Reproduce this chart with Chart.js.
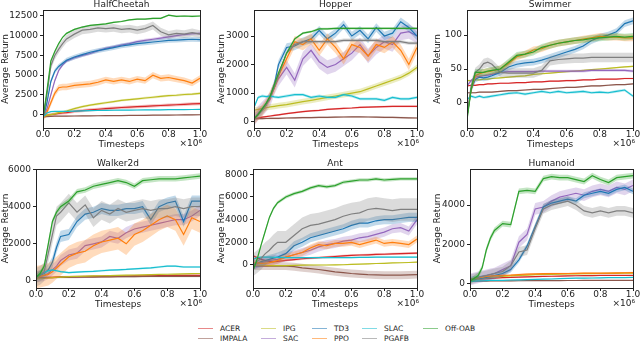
<!DOCTYPE html>
<html>
<head>
<meta charset="utf-8">
<script src="https://cdn.jsdelivr.net/npm/chart.js@4.4.1/dist/chart.umd.min.js"></script>
<style>
body{margin:0;background:#fff;width:640px;height:343px;overflow:hidden;position:relative;font-family:'DejaVu Sans',sans-serif}
canvas{position:absolute}
.leg{position:absolute;font-size:7.5px;color:#222;line-height:10px;white-space:nowrap}
.leg i{display:inline-block;width:15px;height:0;border-top:1.5px solid;vertical-align:middle;margin-right:7px}
</style>
</head>
<body>
<script>
// timesteps in units of 1e6
const timesteps = [0, 0.025, 0.05, 0.075, 0.1, 0.125, 0.15, 0.2, 0.25, 0.3, 0.35, 0.4, 0.45, 0.5, 0.55, 0.6, 0.65, 0.7, 0.75, 0.8, 0.85, 0.9, 0.95, 1.0];
const xTicks = [0, 0.2, 0.4, 0.6, 0.8, 1.0];
const algorithms = ['ACER', 'IMPALA', 'IPG', 'SAC', 'TD3', 'PPO', 'SLAC', 'PGAFB', 'Off-OAB'];
const colors = ['#d62728', '#8c564b', '#bcbd22', '#9467bd', '#1f77b4', '#ff7f0e', '#17becf', '#7f7f7f', '#2ca02c'];

// rows follow the algorithms order
const halfCheetahMean = [
  [-200, -100, 0, 50, 150, 200, 250, 400, 500, 600, 680, 750, 820, 900, 950, 1000, 1050, 1100, 1150, 1200, 1250, 1300, 1350, 1400],
  [-300, -250, -220, -200, -200, -200, -190, -180, -170, -160, -150, -140, -130, -120, -110, -100, -90, -80, -70, -60, -50, -40, -30, -20],
  [-200, -100, 0, 100, 250, 350, 450, 750, 1000, 1200, 1350, 1500, 1650, 1800, 1900, 2000, 2100, 2200, 2300, 2400, 2450, 2550, 2600, 2700],
  [-500, 700, 2500, 4300, 5600, 6300, 6800, 7200, 7500, 7750, 8100, 8400, 8600, 8800, 9000, 9250, 9400, 9550, 9700, 9850, 10000, 10150, 10250, 10300],
  [-500, 1500, 4200, 5500, 6100, 6500, 6900, 7300, 7600, 7900, 8100, 8300, 8500, 8700, 8850, 9000, 9100, 9200, 9300, 9400, 9450, 9500, 9550, 9500],
  [-500, 300, 1500, 2700, 3400, 3500, 3500, 3700, 3800, 3900, 4100, 4400, 4200, 4400, 4200, 4500, 4300, 5000, 4600, 4700, 4500, 4300, 4000, 4600],
  [-300, 200, 380, 400, 400, 410, 420, 450, 480, 500, 520, 540, 550, 560, 570, 580, 590, 600, 610, 620, 630, 640, 645, 650],
  [-500, 2500, 6200, 7500, 8300, 9000, 9600, 10200, 10700, 10800, 11000, 10900, 11000, 10800, 10900, 10700, 10900, 11300, 10500, 10100, 10300, 10200, 10400, 10200],
  [-500, 3000, 6800, 8000, 9000, 9800, 10300, 10800, 11100, 11300, 11400, 11500, 11700, 11800, 12000, 12100, 12100, 12200, 12200, 12600, 12450, 12500, 12450, 12500]
];
const halfCheetahSpread = [200, 60, 150, 200, 300, 400, 50, 500, 100];
const halfCheetahTicks = [0, 2500, 5000, 7500, 10000, 12500];

const hopperMean = [
  [100, 130, 160, 180, 200, 220, 240, 280, 320, 350, 380, 400, 430, 450, 470, 480, 500, 510, 520, 530, 535, 540, 540, 540],
  [100, 105, 110, 112, 115, 118, 120, 130, 135, 140, 145, 150, 155, 160, 165, 170, 170, 165, 160, 155, 150, 140, 135, 130],
  [400, 430, 460, 490, 520, 540, 560, 600, 650, 700, 750, 800, 850, 900, 950, 1000, 1050, 1150, 1250, 1350, 1450, 1550, 1700, 1900],
  [100, 300, 450, 600, 800, 1200, 1500, 1900, 1450, 2200, 2500, 2100, 1900, 2000, 2200, 2400, 2700, 2300, 2600, 2800, 2700, 3100, 3150, 3000],
  [100, 250, 400, 600, 900, 1300, 2000, 2600, 2650, 2800, 2900, 3200, 2900, 3100, 3400, 3000, 3200, 2900, 3300, 3000, 3100, 3500, 3300, 3000],
  [100, 250, 400, 600, 900, 1200, 1600, 2200, 2800, 2700, 2900, 2500, 2900, 2600, 2200, 2700, 2600, 2300, 2700, 2600, 2800, 2500, 2000, 2600],
  [500, 850, 900, 880, 900, 870, 850, 900, 950, 950, 850, 900, 850, 850, 950, 900, 800, 800, 800, 750, 850, 800, 800, 850],
  [100, 250, 400, 600, 900, 1200, 1600, 2400, 2700, 2800, 2800, 2800, 2800, 2800, 2850, 2850, 2850, 2850, 2850, 2800, 2800, 2800, 2750, 2750],
  [100, 250, 450, 650, 900, 1300, 1700, 2400, 2900, 3100, 3150, 3250, 3250, 3270, 3270, 3270, 3270, 3270, 3270, 3270, 3270, 3270, 3270, 3270]
];
const hopperSpread = [30, 30, 100, 250, 150, 200, 50, 60, 40];
const hopperTicks = [0, 1000, 2000, 3000];

const swimmerMean = [
  [25, 26, 26, 27, 27, 28, 28, 29, 29, 30, 30, 31, 31, 32, 32, 33, 33, 34, 34, 35, 35, 35, 36, 36],
  [15, 15, 15, 16, 16, 16, 16, 17, 18, 18, 19, 20, 20, 21, 22, 23, 23, 24, 25, 25, 26, 27, 27, 28],
  [33, 33, 34, 34, 35, 35, 36, 37, 38, 39, 40, 42, 43, 44, 45, 46, 47, 48, 49, 50, 51, 52, 53, 54],
  [25, 33, 38, 39, 40, 41, 42, 45, 46, 46, 46, 46, 47, 47, 47, 47, 47, 47, 48, 48, 48, 48, 48, 47],
  [-20, 20, 35, 38, 37, 38, 40, 45, 53, 57, 59, 60, 63, 67, 71, 75, 79, 84, 92, 97, 100, 105, 117, 121],
  [-20, 20, 40, 43, 45, 46, 47, 50, 58, 68, 72, 78, 80, 85, 88, 90, 92, 94, 96, 98, 97, 97, 96, 96],
  [5, 10, 8, 10, 8, 9, 10, 12, 14, 15, 13, 15, 17, 15, 17, 15, 16, 17, 15, 16, 15, 17, 19, 10],
  [-20, 25, 45, 50, 58, 60, 57, 45, 44, 44, 44, 44, 48, 62, 64, 65, 66, 66, 67, 67, 67, 67, 67, 67],
  [-25, 20, 45, 45, 45, 47, 48, 50, 60, 70, 72, 75, 82, 85, 88, 90, 92, 93, 95, 96, 97, 98, 97, 98]
];
const swimmerSpread = [1, 1, 1, 2, 5, 5, 2, 7, 5];
const swimmerTicks = [0, 50, 100];

const walkerMean = [
  [150, 170, 180, 190, 200, 210, 215, 225, 235, 240, 245, 250, 255, 260, 265, 270, 275, 280, 285, 290, 295, 300, 300, 300],
  [150, 160, 170, 175, 180, 185, 190, 195, 200, 205, 210, 215, 220, 225, 230, 235, 240, 245, 250, 250, 250, 250, 250, 250],
  [100, 120, 140, 160, 180, 200, 210, 230, 250, 260, 270, 280, 290, 300, 310, 320, 330, 340, 350, 360, 370, 380, 390, 400],
  [200, 250, 300, 400, 600, 800, 1100, 1400, 1500, 1900, 2000, 2100, 2400, 2300, 2600, 2800, 2900, 3000, 3100, 3200, 3300, 3300, 3500, 3800],
  [200, 300, 400, 600, 1000, 1800, 2400, 2500, 3200, 3600, 3700, 3900, 3800, 3800, 3900, 3900, 4000, 3300, 4000, 4200, 4300, 3200, 4300, 4300],
  [200, 250, 300, 350, 500, 700, 900, 1300, 1500, 1600, 1900, 2100, 2200, 2300, 2000, 2500, 2700, 3000, 3300, 3500, 3300, 2500, 3400, 3200],
  [200, 350, 450, 550, 600, 550, 500, 450, 480, 500, 520, 550, 580, 600, 620, 650, 680, 700, 750, 800, 800, 750, 750, 750],
  [200, 300, 500, 1500, 2500, 3500, 3700, 4200, 3700, 4100, 3400, 3800, 3600, 3900, 3700, 3800, 3900, 3800, 3900, 3900, 4000, 3900, 4000, 4000],
  [200, 400, 800, 2000, 3200, 3700, 4000, 4300, 4800, 4900, 5100, 5200, 5300, 5400, 5300, 5100, 5400, 5450, 5500, 5500, 5500, 5550, 5600, 5650]
];
const walkerSpread = [50, 50, 30, 300, 300, 600, 50, 500, 150];
const walkerTicks = [0, 2000, 4000, 6000];

const antMean = [
  [800, 650, 500, 400, 300, 300, 320, 400, 480, 550, 600, 650, 700, 750, 800, 850, 880, 900, 930, 950, 980, 1000, 1030, 1050],
  [-100, -100, -100, -100, -100, -100, -100, -100, -150, -250, -320, -400, -500, -600, -680, -750, -800, -850, -880, -900, -900, -900, -880, -850],
  [0, -20, -30, -40, -50, -50, -50, -50, -40, -20, 0, 0, 0, 10, 20, 50, 70, 100, 130, 150, 180, 200, 220, 250],
  [0, 100, 200, 300, 400, 450, 500, 700, 900, 1100, 1300, 1600, 1800, 1900, 2100, 2200, 2400, 2500, 2700, 2900, 3200, 3300, 3000, 4000],
  [0, 150, 300, 400, 500, 600, 700, 1000, 1700, 2000, 2400, 2600, 2800, 3000, 3200, 3500, 3700, 3700, 3900, 4000, 4000, 4100, 4200, 4200],
  [200, 180, 150, 170, 200, 300, 400, 700, 900, 1100, 1500, 1800, 1700, 1900, 1900, 2000, 1800, 2000, 2200, 1900, 2000, 1900, 1800, 2300],
  [500, 650, 700, 700, 700, 680, 670, 650, 650, 650, 650, 650, 650, 650, 650, 650, 670, 680, 700, 700, 700, 700, 700, 700],
  [0, 300, 600, 1000, 1300, 1700, 2000, 2000, 2600, 3200, 3500, 3600, 3800, 4000, 4300, 4500, 4600, 4900, 5000, 4900, 4800, 4900, 4900, 4900],
  [-500, 500, 1800, 3000, 4200, 5000, 5500, 6000, 6300, 6500, 6800, 7000, 6900, 7000, 7300, 7400, 7500, 7500, 7600, 7500, 7550, 7600, 7600, 7600]
];
const antSpread = [100, 350, 50, 400, 400, 300, 60, 1000, 150];
const antTicks = [0, 2000, 4000, 6000, 8000];

const humanoidMean = [
  [150, 180, 200, 220, 240, 250, 260, 290, 300, 320, 330, 340, 350, 360, 370, 380, 385, 390, 395, 400, 400, 400, 400, 400],
  [100, 105, 110, 112, 115, 118, 120, 125, 128, 130, 132, 135, 137, 139, 140, 142, 144, 145, 146, 147, 148, 149, 150, 150],
  [100, 150, 200, 240, 270, 300, 320, 350, 380, 400, 420, 440, 450, 460, 470, 480, 485, 490, 495, 500, 505, 510, 515, 520],
  [200, 250, 300, 350, 400, 450, 500, 700, 900, 2100, 2500, 3800, 3900, 4200, 4400, 4500, 4600, 4500, 4700, 4800, 4700, 4900, 4800, 5000],
  [200, 220, 240, 260, 300, 350, 400, 500, 700, 1200, 1900, 2900, 3900, 4100, 4200, 4300, 4200, 4500, 4600, 4700, 4600, 4800, 4900, 4700],
  [200, 250, 280, 310, 350, 370, 380, 400, 420, 450, 470, 480, 490, 500, 500, 500, 510, 520, 520, 520, 525, 530, 540, 550],
  [100, 110, 120, 130, 140, 145, 150, 150, 170, 180, 190, 200, 210, 220, 235, 250, 260, 265, 270, 280, 285, 290, 295, 300],
  [200, 250, 300, 350, 400, 450, 500, 600, 900, 1600, 1700, 2800, 3800, 4000, 4100, 4200, 4000, 3700, 3600, 3700, 3600, 3700, 3700, 3600],
  [100, 250, 400, 800, 1700, 2300, 2700, 3050, 3000, 4700, 4750, 4700, 5350, 5450, 5400, 5400, 5300, 5200, 5500, 5300, 5150, 5400, 5450, 5500]
];
const humanoidSpread = [30, 20, 30, 300, 150, 40, 20, 250, 150];
const humanoidTicks = [0, 2000, 4000];

const envs = [
  {name: 'HalfCheetah', mean: halfCheetahMean, spread: halfCheetahSpread, ticks: halfCheetahTicks, yMin: -1700, yMax: 13260,
   cell: {x: 0, y: 0, w: 213, h: 157}, plot: {left: 43, top: 10, right: 200, bottom: 128}, ylab: 0},
  {name: 'Hopper', mean: hopperMean, spread: hopperSpread, ticks: hopperTicks, yMin: -220, yMax: 3910,
   cell: {x: 213, y: 0, w: 214, h: 157}, plot: {left: 254, top: 10, right: 417, bottom: 128}, ylab: 3.5},
  {name: 'Swimmer', mean: swimmerMean, spread: swimmerSpread, ticks: swimmerTicks, yMin: -37, yMax: 137,
   cell: {x: 427, y: 0, w: 213, h: 157}, plot: {left: 467, top: 10, right: 633, bottom: 128}, ylab: 5.5},
  {name: 'Walker2d', mean: walkerMean, spread: walkerSpread, ticks: walkerTicks, yMin: -380, yMax: 6030,
   cell: {x: 0, y: 157, w: 213, h: 161}, plot: {left: 36, top: 169, right: 200, bottom: 288}, ylab: 0},
  {name: 'Ant', mean: antMean, spread: antSpread, ticks: antTicks, yMin: -2030, yMax: 8470,
   cell: {x: 213, y: 157, w: 214, h: 161}, plot: {left: 253, top: 169, right: 417, bottom: 288}, ylab: 3.5},
  {name: 'Humanoid', mean: humanoidMean, spread: humanoidSpread, ticks: humanoidTicks, yMin: -240, yMax: 5840,
   cell: {x: 427, y: 157, w: 213, h: 161}, plot: {left: 470, top: 169, right: 633, bottom: 288}, ylab: 5.5}
];

function alpha(hex, a) {
  const n = parseInt(hex.slice(1), 16);
  return 'rgba(' + (n >> 16) + ',' + ((n >> 8) & 255) + ',' + (n & 255) + ',' + a + ')';
}

// frame on all four sides, subplot title, x label and the ×10⁶ offset text
const framePlugin = {
  id: 'frame',
  afterDraw(chart) {
    const ctx = chart.ctx, a = chart.chartArea;
    ctx.save();
    ctx.strokeStyle = '#222';
    ctx.lineWidth = 1;
    ctx.strokeRect(Math.round(a.left) + 0.5, Math.round(a.top) + 0.5, Math.round(a.right - a.left), Math.round(a.bottom - a.top));
    ctx.fillStyle = '#222';
    ctx.font = '9px "DejaVu Sans"';
    ctx.textAlign = 'center';
    ctx.textBaseline = 'bottom';
    ctx.fillText(chart.options.envName, (a.left + a.right) / 2, a.top - 1);
    ctx.textBaseline = 'middle';
    ctx.fillText('Timesteps', (a.left + a.right) / 2, a.bottom + 16.5);
    ctx.textAlign = 'right';
    ctx.fillText('×10⁶', a.right + 2, a.bottom + 15.5);
    ctx.restore();
  }
};

function makeChart(env) {
  const cell = env.cell, plot = env.plot;
  const c = document.createElement('canvas');
  c.width = cell.w; c.height = cell.h;
  c.style.left = cell.x + 'px'; c.style.top = cell.y + 'px';
  document.body.appendChild(c);

  const datasets = [];
  // first dataset is drawn on top, so go from the last algorithm backwards
  for (let k = algorithms.length - 1; k >= 0; k--) {
    const m = env.mean[k], s = env.spread[k];
    const base = datasets.length;
    datasets.push({label: algorithms[k], data: timesteps.map((t, i) => ({x: t, y: m[i]})),
      borderColor: colors[k], borderWidth: 1.2, pointRadius: 0, fill: false});
    datasets.push({data: timesteps.map((t, i) => ({x: t, y: m[i] + s})), borderColor: 'transparent', borderWidth: 0,
      pointRadius: 0, fill: base + 2, backgroundColor: alpha(colors[k], 0.28)});
    datasets.push({data: timesteps.map((t, i) => ({x: t, y: m[i] - s})), borderColor: 'transparent', borderWidth: 0,
      pointRadius: 0, fill: false});
  }

  const axisColor = '#222';
  new Chart(c, {
    type: 'line',
    data: {datasets},
    options: {
      envName: env.name,
      responsive: false,
      animation: false,
      layout: {padding: {top: plot.top - cell.y, right: cell.x + cell.w - plot.right, left: 0, bottom: 0}},
      plugins: {legend: {display: false}, tooltip: {enabled: false}},
      scales: {
        x: {
          type: 'linear', min: 0, max: 1,
          afterBuildTicks: ax => { ax.ticks = xTicks.map(v => ({value: v})); },
          ticks: {callback: v => v.toFixed(1), font: {size: 9, family: 'DejaVu Sans'}, color: axisColor, padding: -2, maxRotation: 0, autoSkip: false},
          grid: {drawOnChartArea: false, tickLength: 3, color: axisColor},
          border: {color: axisColor},
          afterFit: s => { s.height = cell.y + cell.h - plot.bottom; }
        },
        y: {
          min: env.yMin, max: env.yMax,
          afterBuildTicks: ax => { ax.ticks = env.ticks.map(v => ({value: v})); },
          ticks: {callback: v => String(v), font: {size: 9, family: 'DejaVu Sans'}, color: axisColor, padding: 2},
          grid: {drawOnChartArea: false, tickLength: 3, color: axisColor},
          border: {color: axisColor},
          title: {display: true, text: 'Average Return', font: {size: 9, family: 'DejaVu Sans'}, color: axisColor,
            padding: {top: env.ylab, bottom: 0}},
          afterFit: s => { s.width = plot.left - cell.x; }
        }
      }
    },
    plugins: [framePlugin]
  });
}

envs.forEach(makeChart);

// legend, filled column by column
const legX = [198, 261, 312, 362, 423];
const legY = [324, 334];
algorithms.forEach((name, i) => {
  const d = document.createElement('div');
  d.className = 'leg';
  d.style.left = legX[Math.floor(i / 2)] + 'px';
  d.style.top = legY[i % 2] + 'px';
  d.innerHTML = '<i style="border-color:' + alpha(colors[i], 0.55) + '"></i>' + name;
  document.body.appendChild(d);
});
</script>
</body>
</html>
